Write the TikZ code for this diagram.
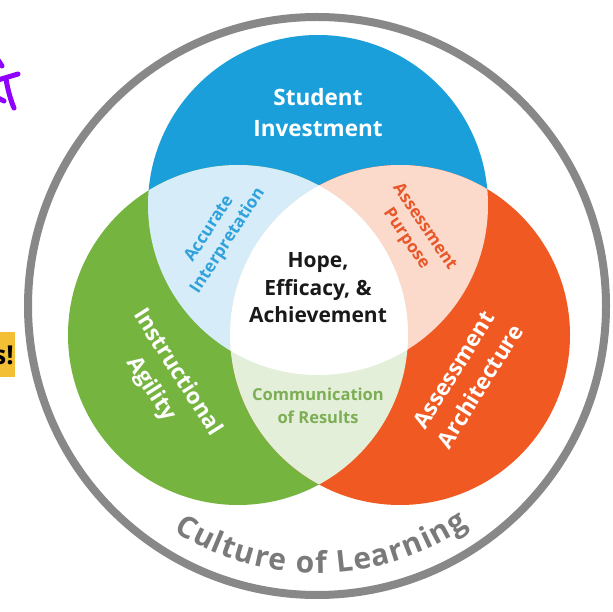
\documentclass[tikz,border=0pt]{standalone}
\usepackage{fontspec}
\setmainfont{Open Sans}
\usetikzlibrary{decorations.text}
\definecolor{cblue}{HTML}{1A9FDA}
\definecolor{cgreen}{HTML}{74B43F}
\definecolor{corange}{HTML}{F05A22}
\definecolor{lblue}{HTML}{D6ECF9}
\definecolor{lpink}{HTML}{FBDACC}
\definecolor{lgreen}{HTML}{E3EFD9}
\definecolor{ringgray}{HTML}{888888}
\definecolor{textgray}{HTML}{7A7A7A}
\definecolor{tgreen}{HTML}{7DAE55}
\definecolor{torange}{HTML}{E8572A}
\definecolor{tblue}{HTML}{2FA2DC}
\definecolor{markpurple}{HTML}{8F00FF}
\definecolor{boxyellow}{HTML}{F3BF34}
\tikzset{
  lab/.style={inner sep=0pt, align=center, font=\bfseries},
  biglab/.style={lab, text=white, font=\bfseries\fontsize{22.5}{31}\selectfont},
  midlab/.style={lab, font=\bfseries\fontsize{17}{22}\selectfont},
  ring/.style={draw=ringgray, line width=8pt},
  purplestroke/.style={draw=markpurple, line width=5pt, line cap=round, line join=round}
}
\begin{document}
\begin{tikzpicture}[x=1pt,y=1pt]
\useasboundingbox (0,0) rectangle (613,611);
\fill[white] (0,0) rectangle (613,611);
% outer ring
\draw[ring] (317,305) circle[radius=289];
% main circles
\fill[cblue] (318,406) circle[radius=170];
\fill[cgreen] (238,276) circle[radius=170];
\fill[corange] (400,276) circle[radius=170];
% pairwise intersections
\begin{scope}
  \clip (318,406) circle[radius=170];
  \fill[lblue] (238,276) circle[radius=170];
\end{scope}
\begin{scope}
  \clip (318,406) circle[radius=170];
  \fill[lpink] (400,276) circle[radius=170];
\end{scope}
\begin{scope}
  \clip (238,276) circle[radius=170];
  \fill[lgreen] (400,276) circle[radius=170];
\end{scope}
\begin{scope}
  \clip (318,406) circle[radius=170];
  \clip (238,276) circle[radius=170];
  \fill[white] (400,276) circle[radius=170];
\end{scope}
% labels
\node[biglab] (student) at (318,498) {Student\\Investment};
\node[lab, text=black!90, font=\bfseries\fontsize{21}{27.5}\selectfont] (hope) at (318,323) {Hope,\\Efficacy, \&\\Achievement};
\node[midlab, text=tblue, rotate=57] (accurate) at (219,376) {Accurate\\Interpretation};
\node[midlab, text=torange, rotate=-56] (purpose) at (415,378) {Assessment\\Purpose};
\node[biglab, rotate=-57.5] (instr) at (164,230) {Instructional\\Agility};
\node[biglab, rotate=58] (arch) at (467,233) {Assessment\\Architecture};
\node[midlab, text=tgreen, font=\bfseries\fontsize{16.5}{23}\selectfont] (comm) at (318,205) {Communication\\of Results};
% curved text
\path[decorate, decoration={text along path, text align={fit to path},
  text={|\bfseries\fontsize{30}{30}\selectfont\color{textgray}|Culture of Learning}}]
  (317,305) ++(237.5:267) arc[start angle=237.5, end angle=304.5, radius=267];
% purple mark (cropped handwriting)
\draw[purplestroke] (-2,531) -- (18,537);
\draw[purplestroke] (6,532) .. controls (8,520) and (11,510) .. (14,503);
\draw[purplestroke] (-2,551) -- (2,545);
\draw[purplestroke] (-2,513) -- (4,510);
% yellow box
\fill[boxyellow] (0,234) rectangle (15,279);
\begin{scope}
  \clip (0,234) rectangle (15,279);
  \node[anchor=east, inner sep=0pt, font=\bfseries\fontsize{26}{26}\selectfont] (excl) at (14,256) {s!};
\end{scope}
\end{tikzpicture}
\end{document}
